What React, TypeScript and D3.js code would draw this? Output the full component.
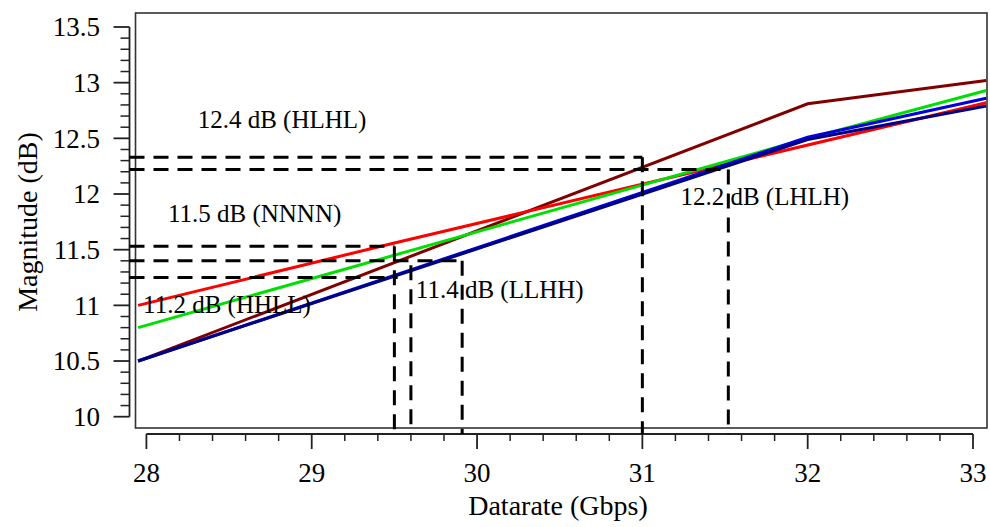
import React from "react";
import * as d3 from "d3";

// ---- data ----
const xTickValues = [28, 29, 30, 31, 32, 33];
const yTickValues = [10, 10.5, 11, 11.5, 12, 12.5, 13, 13.5];

type Pt = [number, number];
const seriesNames = ["HLHL", "NNNN", "HHLL", "LLHH", "LHLH"];
const seriesColors = ["#800000", "#ff0000", "#00e000", "#0000e0", "#000080"];
const seriesHLHL: Pt[] = [[27.95, 10.5], [32, 12.81], [33.08, 13.02]];
const seriesNNNN: Pt[] = [[27.95, 11.0], [29.5, 11.56], [33.08, 12.82]];
const seriesHHLL: Pt[] = [[27.95, 10.8], [32, 12.5], [33.08, 12.93]];
const seriesLLHH: Pt[] = [[27.95, 10.5], [32, 12.51], [33.08, 12.86]];
const seriesLHLH: Pt[] = [[27.95, 10.5], [32, 12.49], [33.08, 12.79]];
const seriesData = [seriesHLHL, seriesNNNN, seriesHHLL, seriesLLHH, seriesLHLH];

// dashed guides: horizontal at hy up to hx, vertical at vx from vy down to the axis
const guideHy = [12.33, 12.22, 11.53, 11.4, 11.25];
const guideHx = [31.0, 31.52, 29.5, 29.91, 29.52];
const guideVx = [31.0, 31.52, 29.5, 29.91, 29.6];
const guideVy = [12.33, 12.22, 11.53, 11.4, 11.36];

const annoText = ["12.4 dB (HLHL)", "12.2 dB (LHLH)", "11.5 dB (NNNN)", "11.4 dB (LLHH)", "11.2 dB (HHLL)"];
const annoX = [28.31, 31.23, 28.13, 29.63, 27.98];
const annoY = [12.59, 11.9, 11.75, 11.07, 10.93];

export default function App() {
  const W = 990, H = 527;
  const x = d3.scaleLinear().domain([28, 33]).range([146.4, 973]);
  const y = d3.scaleLinear().domain([10, 13.5]).range([416.7, 27]);
  const frame = { l: 135.5, r: 987, t: 13, b: 428 };
  const axisY = 434;
  const axisX = 129.5;
  const font = 'Tinos, "Liberation Serif", "DejaVu Serif", "Noto Serif", FreeSerif, "Times New Roman", serif';
  const ts = { fontFamily: font };

  const line = d3.line<Pt>().x((d) => x(d[0])).y((d) => y(d[1]));

  const yMinor = d3.range(100, 136, 1).map((v) => v / 10).filter((v) => Math.abs(v * 2 - Math.round(v * 2)) > 1e-6);
  const xMinor = d3.range(140, 166, 1).map((v) => v / 5).filter((v) => Math.abs(v - Math.round(v)) > 1e-6);

  return (
    <svg width={W} height={H} style={{ position: "absolute", left: 0, top: 0, background: "#fff", fontFamily: font }}>
      <defs>
        <clipPath id="plotclip">
          <rect x={frame.l} y={frame.t} width={frame.r - frame.l} height={frame.b - frame.t} />
        </clipPath>
      </defs>
      {/* frame */}
      <rect x={frame.l} y={frame.t} width={frame.r - frame.l} height={frame.b - frame.t} fill="none" stroke="#333" strokeWidth={1.6} />

      {/* y axis */}
      <line x1={axisX} x2={axisX} y1={y(13.5)} y2={y(10)} stroke="#222" strokeWidth={1.8} />
      {yTickValues.map((v) => (
        <g key={"yt" + v}>
          <line x1={axisX - 16} x2={axisX} y1={y(v)} y2={y(v)} stroke="#222" strokeWidth={1.8} />
          <text x={100} y={y(v)} dy="0.35em" textAnchor="end" fontSize={27} style={ts}>{v}</text>
        </g>
      ))}
      {yMinor.map((v) => (
        <line key={"ym" + v} x1={axisX - 9} x2={axisX} y1={y(v)} y2={y(v)} stroke="#222" strokeWidth={1.5} />
      ))}

      {/* x axis */}
      <line x1={x(28)} x2={x(33)} y1={axisY} y2={axisY} stroke="#222" strokeWidth={1.8} />
      {xTickValues.map((v) => (
        <g key={"xt" + v}>
          <line x1={x(v)} x2={x(v)} y1={axisY} y2={axisY + 15} stroke="#222" strokeWidth={1.8} />
          <text x={x(v)} y={482} textAnchor="middle" fontSize={27} style={ts}>{v}</text>
        </g>
      ))}
      {xMinor.map((v) => (
        <line key={"xm" + v} x1={x(v)} x2={x(v)} y1={axisY} y2={axisY + 7} stroke="#222" strokeWidth={1.5} />
      ))}

      {/* axis titles */}
      <text transform={`translate(27,222) rotate(-90)`} dy="0.35em" textAnchor="middle" fontSize={28} style={ts}>Magnitude (dB)</text>
      <text x={558} y={515} textAnchor="middle" fontSize={28} style={ts}>Datarate (Gbps)</text>

      {/* series */}
      <g clipPath="url(#plotclip)">
        {seriesData.map((s, i) => (
          <path key={seriesNames[i]} d={line(s) || ""} fill="none" stroke={seriesColors[i]} strokeWidth={3} />
        ))}
      </g>

      {/* dashed guides */}
      {guideHy.map((hy, i) => (
        <g key={"g" + i} stroke="#000" strokeWidth={3} strokeDasharray="15 9" fill="none">
          <line x1={axisX} x2={x(guideHx[i])} y1={y(hy)} y2={y(hy)} />
          <line x1={x(guideVx[i])} x2={x(guideVx[i])} y1={y(guideVy[i])} y2={axisY} />
        </g>
      ))}

      {/* annotations */}
      {annoText.map((t, i) => (
        <text key={t} x={x(annoX[i])} y={y(annoY[i])} fontSize={25} style={ts}>{t}</text>
      ))}
    </svg>
  );
}
